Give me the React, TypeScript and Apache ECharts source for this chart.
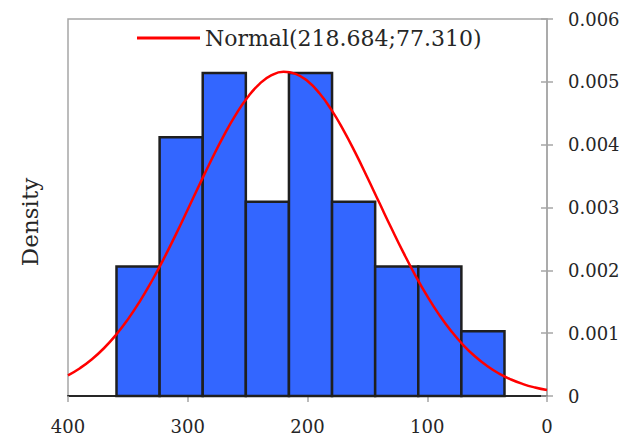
import React, { useEffect, useRef } from "react";
import * as echarts from "echarts";

const binLow = [323.5, 287.5, 251.5, 215.5, 179.5, 143.5, 107.5, 71.5, 35.5];
const binHigh = [359.5, 323.5, 287.5, 251.5, 215.5, 179.5, 143.5, 107.5, 71.5];
const density = [0.00206, 0.00412, 0.00514, 0.00309, 0.00514, 0.00309, 0.00206, 0.00206, 0.00103];

const curveX = [
  0, 10, 20, 30, 40, 50, 60, 70, 80, 90, 100, 110, 120, 130, 140, 150, 160, 170, 180, 190, 200,
  210, 220, 230, 240, 250, 260, 270, 280, 290, 300, 310, 320, 330, 340, 350, 360, 370, 380, 390, 400,
];
const curveY = [
  0.0000945, 0.0001351, 0.0001899, 0.0002626, 0.000357, 0.0004774, 0.0006278, 0.0008119, 0.0010325,
  0.0012914, 0.0015882, 0.001921, 0.0022849, 0.0026726, 0.0030743, 0.0034776, 0.0038686, 0.0042322,
  0.0045531, 0.0048171, 0.0050118, 0.0051278, 0.0051596, 0.0051053, 0.0049678, 0.0047539, 0.0044736,
  0.0041401, 0.0037677, 0.003372, 0.0029678, 0.0025687, 0.0021864, 0.0018301, 0.0015065, 0.0012195,
  0.0009708, 0.00076, 0.0005851, 0.000443, 0.0003298,
];

const legendName = "Normal(218.684;77.310)";
const yLabel = "Density";
const FONT = "DejaVu Serif";

export default function App() {
  const ref = useRef<HTMLDivElement>(null);
  useEffect(() => {
    if (!ref.current) return;
    const chart = echarts.init(ref.current, null, { renderer: "svg" });
    const histData = binLow.map((lo, i) => [lo, binHigh[i], density[i]]);
    const curveData = curveX.map((x, i) => [x, curveY[i]]);
    chart.setOption({
      animation: false,
      backgroundColor: "#ffffff",
      grid: {
        left: 68,
        right: 85,
        top: 19,
        bottom: 43,
        show: true,
        borderColor: "#A6A6A6",
        borderWidth: 1.5,
      },
      legend: {
        left: 132,
        top: 22,
        data: [{ name: legendName, icon: "rect" }],
        itemWidth: 63,
        itemHeight: 3,
        textStyle: { fontFamily: FONT, fontSize: 22, color: "#262626" },
      },
      graphic: [
        {
          type: "text",
          x: 30,
          y: 222,
          rotation: Math.PI / 2,
          style: {
            text: yLabel,
            fontFamily: FONT,
            fontSize: 23,
            fill: "#262626",
            align: "center",
            verticalAlign: "middle",
          },
        },
      ],
      xAxis: {
        type: "value",
        min: 0,
        max: 400,
        interval: 100,
        inverse: true,
        axisLine: { show: true, lineStyle: { color: "#262626", width: 2 } },
        axisTick: { show: true, length: 6, lineStyle: { color: "#A6A6A6", width: 1.5 } },
        axisLabel: { fontFamily: FONT, fontSize: 18, color: "#262626", margin: 21 },
        splitLine: { show: false },
      },
      yAxis: [
        {
          type: "value",
          position: "right",
          min: 0,
          max: 0.006,
          interval: 0.001,
          axisLine: { show: true, lineStyle: { color: "#A6A6A6", width: 1.5 } },
          axisTick: { show: true, length: 6, lineStyle: { color: "#A6A6A6", width: 1.5 } },
          axisLabel: {
            fontFamily: FONT,
            fontSize: 18,
            color: "#262626",
            margin: 21,
            formatter: (v: number) => (v === 0 ? "0" : v.toFixed(3)),
          },
          splitLine: { show: false },
        },
        {
          type: "value",
          position: "right",
          offset: 0,
          min: 0,
          max: 0.006,
          interval: 0.001,
          axisLine: { show: false },
          axisTick: { show: true, inside: true, length: 6, lineStyle: { color: "#A6A6A6", width: 1.5 } },
          axisLabel: { show: false },
          splitLine: { show: false },
        },
      ],
      series: [
        {
          type: "custom",
          name: "hist",
          xAxisIndex: 0,
          yAxisIndex: 0,
          encode: { x: [0, 1], y: 2 },
          data: histData,
          z: 2,
          renderItem: (params: any, api: any) => {
            const a = api.coord([api.value(0), api.value(2)]);
            const b = api.coord([api.value(1), 0]);
            const x = Math.min(a[0], b[0]);
            const w = Math.abs(b[0] - a[0]);
            return {
              type: "rect",
              shape: { x, y: a[1], width: w, height: b[1] - a[1] },
              style: { fill: "#3366FF", stroke: "#1F1F1F", lineWidth: 2.5 },
            };
          },
        },
        {
          type: "line",
          name: legendName,
          data: curveData,
          smooth: true,
          showSymbol: false,
          symbol: "none",
          z: 5,
          color: "#FF0000",
          lineStyle: { color: "#FF0000", width: 2.5 },
        },
      ],
    });
    return () => chart.dispose();
  }, []);
  return (
    <div
      ref={ref}
      style={{ position: "absolute", left: 0, top: 0, width: 632, height: 439 }}
    />
  );
}
